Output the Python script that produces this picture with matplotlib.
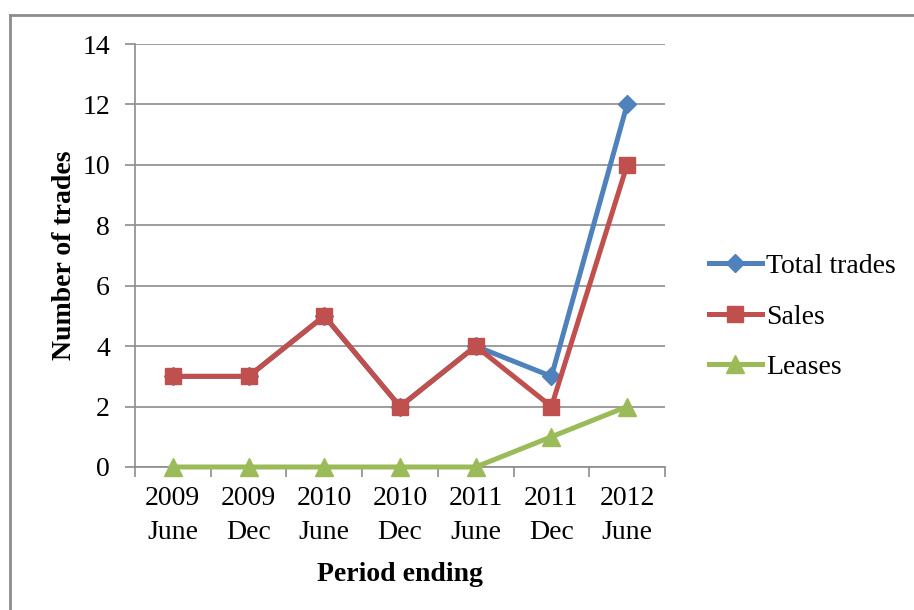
import matplotlib
matplotlib.use("Agg")
import matplotlib.pyplot as plt
from matplotlib.lines import Line2D

categories = ["2009\nJune", "2009\nDec", "2010\nJune", "2010\nDec",
              "2011\nJune", "2011\nDec", "2012\nJune"]
total_trades = [3, 3, 5, 2, 4, 3, 12]
sales = [3, 3, 5, 2, 4, 2, 10]
leases = [0, 0, 0, 0, 0, 1, 2]
y_ticks = [0, 2, 4, 6, 8, 10, 12, 14]

plt.rcParams['font.family'] = ['Liberation Serif', 'DejaVu Serif']

fig = plt.figure(figsize=(9.14, 6.10), dpi=100)
fig.patch.set_facecolor("white")

# outer frame (left and top edges visible)
fig.add_artist(Line2D([9.5/914, 9.5/914], [0, 1 - 15/610], transform=fig.transFigure,
                      color="#8c8c8c", lw=2))
fig.add_artist(Line2D([9.5/914, 1], [1 - 15/610, 1 - 15/610], transform=fig.transFigure,
                      color="#8c8c8c", lw=2))

ax = fig.add_axes([135/914, (610-467)/610, 530/914, 423/610])

x = list(range(len(categories)))
grid_c = "#8c8c8c"

ax.plot(x, total_trades, color="#4F81BD", lw=3.6, marker="D", ms=9,
        label="Total trades", zorder=3, clip_on=False)
ax.plot(x, sales, color="#C0504D", lw=3.6, marker="s", ms=12,
        label="Sales", zorder=4, clip_on=False)
ax.plot(x, leases, color="#9BBB59", lw=3.6, marker="^", ms=13,
        label="Leases", zorder=5, clip_on=False)

ax.set_xlim(-0.5, len(categories) - 0.5)
ax.set_ylim(0, 14)
ax.set_yticks(y_ticks)
ax.set_yticklabels([str(v) for v in y_ticks], fontsize=20)
ax.yaxis.grid(True, color=grid_c, lw=1.2)
ax.set_axisbelow(True)

# category labels centered, tick marks between categories
ax.set_xticks(x)
ax.set_xticklabels(categories, fontsize=20, linespacing=1.45)
ax.tick_params(axis="x", length=0, pad=14)
ax.set_xticks([i - 0.5 for i in range(len(categories) + 1)], minor=True)
ax.tick_params(axis="x", which="minor", length=7, width=1.2, color=grid_c, direction="out")
ax.tick_params(axis="y", length=7, width=1.2, color=grid_c, pad=11)

for s in ["top", "right"]:
    ax.spines[s].set_visible(False)
for s in ["left", "bottom"]:
    ax.spines[s].set_color(grid_c)
    ax.spines[s].set_linewidth(1.2)

ax.set_ylabel("Number of trades", fontsize=20, fontweight="bold", labelpad=4)
ax.set_xlabel("Period ending", fontsize=20, fontweight="bold", labelpad=12)

leg = ax.legend(loc="center left", bbox_to_anchor=(1.062, 0.355), frameon=False,
                fontsize=20, handlelength=1.9, handletextpad=0.15, labelspacing=0.9,
                borderaxespad=0)

fig.savefig("out.png", dpi=100, facecolor="white")
